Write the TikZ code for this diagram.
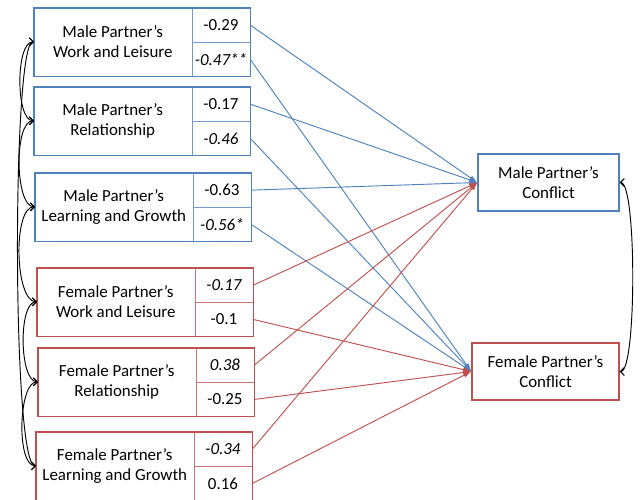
\documentclass[tikz,border=0pt]{standalone}
\usepackage{fontspec}
\setmainfont{Carlito}
\usetikzlibrary{arrows.meta}
\definecolor{maleblue}{RGB}{79,129,189}
\definecolor{femalered}{RGB}{192,80,77}

\tikzset{
  lbl/.style={minimum width=117.75pt, minimum height=50.25pt, inner sep=0pt,
    anchor=north west, align=center},
  cell/.style={draw=#1!80, line width=0.6pt, minimum width=43.5pt,
    minimum height=25.125pt, inner sep=0pt, anchor=north west},
  outcome/.style={draw=#1, line width=1.1pt, minimum height=42.75pt,
    inner sep=0pt, align=center},
  boxline/.style={draw=#1, line width=1.1pt},
  path/.style={draw=#1, line width=0.7pt, -{Latex[length=6pt,width=4pt]}},
  corr/.style={line width=0.7pt, {Straight Barb[length=3pt,width=6pt]}-{Straight Barb[length=3pt,width=6pt]}}
}

\begin{document}
\begin{tikzpicture}[x=0.75pt,y=-0.75pt,font=\fontsize{12.7}{15}\selectfont]
      \useasboundingbox (0,0) rectangle (640,500);

      % male predictors
      \node[lbl] (mwl) at (34,8) {Male Partner’s\\Work and Leisure};
      \node[cell=maleblue] (mwlt) at (mwl.north east) {-0.29};
      \node[cell=maleblue] (mwlb) at (mwlt.south west) {\itshape -0.47**};
      \draw[boxline=maleblue] (mwl.north west) rectangle (mwlb.south east);

      \node[lbl] (mrl) at (34,87) {Male Partner’s\\Relationship};
      \node[cell=maleblue] (mrlt) at (mrl.north east) {-0.17};
      \node[cell=maleblue] (mrlb) at (mrlt.south west) {\itshape -0.46};
      \draw[boxline=maleblue] (mrl.north west) rectangle (mrlb.south east);

      \node[lbl] (mlg) at (35,173) {Male Partner’s\\Learning and Growth};
      \node[cell=maleblue] (mlgt) at (mlg.north east) {-0.63};
      \node[cell=maleblue] (mlgb) at (mlgt.south west) {\itshape -0.56*};
      \draw[boxline=maleblue] (mlg.north west) rectangle (mlgb.south east);

      % female predictors
      \node[lbl] (fwl) at (37,268) {Female Partner’s\\Work and Leisure};
      \node[cell=femalered] (fwlt) at (fwl.north east) {\itshape -0.17};
      \node[cell=femalered] (fwlb) at (fwlt.south west) {-0.1};
      \draw[boxline=femalered] (fwl.north west) rectangle (fwlb.south east);

      \node[lbl] (frl) at (38,348) {Female Partner’s\\Relationship};
      \node[cell=femalered] (frlt) at (frl.north east) {\itshape 0.38};
      \node[cell=femalered] (frlb) at (frlt.south west) {-0.25};
      \draw[boxline=femalered] (frl.north west) rectangle (frlb.south east);

      \node[lbl] (flg) at (36,432) {Female Partner’s\\Learning and Growth};
      \node[cell=femalered] (flgt) at (flg.north east) {\itshape -0.34};
      \node[cell=femalered] (flgb) at (flgt.south west) {0.16};
      \draw[boxline=femalered] (flg.north west) rectangle (flgb.south east);

      % outcomes
      \node[outcome=maleblue, minimum width=105.75pt] (mc) at (548.5,182.5) {Male Partner’s\\Conflict};
      \node[outcome=femalered, minimum width=110.25pt] (fc) at (545.5,371.5) {Female Partner’s\\Conflict};

      \draw[path=maleblue] (mwlt.east) -- (mc.west);
      \draw[path=maleblue] (mwlb.east) -- (fc.west);
      \draw[path=maleblue] (mrlt.east) -- (mc.west);
      \draw[path=maleblue] (mrlb.east) -- (fc.west);
      \draw[path=maleblue] (mlgt.east) -- (mc.west);
      \draw[path=maleblue] (mlgb.east) -- (fc.west);
      \draw[path=femalered] (fwlt.east) -- (mc.west);
      \draw[path=femalered] (fwlb.east) -- (fc.west);
      \draw[path=femalered] (frlt.east) -- (mc.west);
      \draw[path=femalered] (frlb.east) -- (fc.west);
      \draw[path=femalered] (flgt.east) -- (mc.west);
      \draw[path=femalered] (flgb.east) -- (fc.west);

      % correlations
      \draw[corr] (mwl.west) to[out=180,in=180,looseness=0.6] (mrl.west);
      \draw[corr] (mrl.west) to[out=180,in=180,looseness=0.6] (mlg.west);
      \draw[corr] (mlg.west) to[out=180,in=180,looseness=0.6] (fwl.west);
      \draw[corr] (fwl.west) to[out=180,in=180,looseness=0.6] (frl.west);
      \draw[corr] (frl.west) to[out=180,in=180,looseness=0.6] (flg.west);
      \draw[corr] (mwl.west) .. controls (12,42) and (12,466) .. (flg.west);
      \draw[corr] (mc.east) .. controls +(17,0) and +(17,0) .. (fc.east);
    \end{tikzpicture}
\end{document}
